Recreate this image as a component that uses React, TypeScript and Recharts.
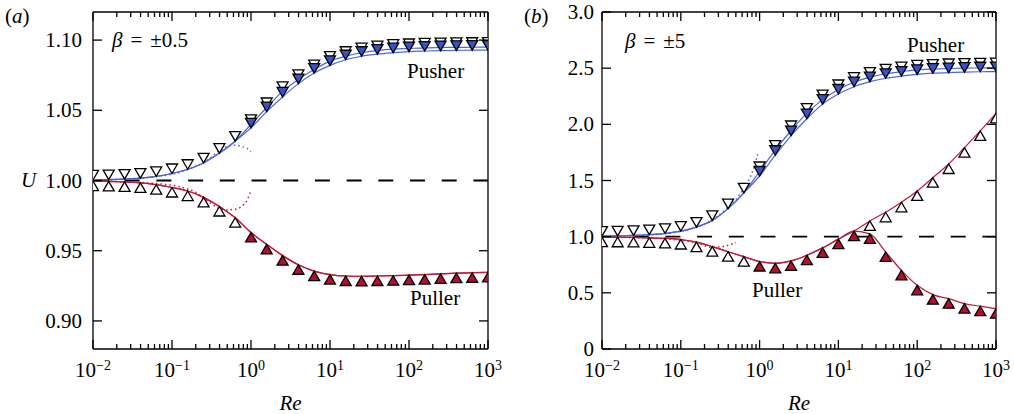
import React from 'react';
import { ComposedChart, Line, Scatter, XAxis, YAxis, ReferenceLine } from 'recharts';

// ─── Data ─────────────────────────────────────────────────────────────────────

const n = null;

// Re sample points (0.2 decade apart)
const reGrid = [
  0.01, 0.0158, 0.0251, 0.0398, 0.0631, 0.1, 0.158, 0.251, 0.398, 0.631, 1, 1.58, 2.51,
  3.98, 6.31, 10, 15.8, 25.1, 39.8, 63.1, 100, 158, 251, 398, 631, 1000,
];

const decadeTicks = [0.01, 0.1, 1, 10, 100, 1000];
const minorTicks = [
  0.02, 0.03, 0.04, 0.05, 0.06, 0.07, 0.08, 0.09,
  0.2, 0.3, 0.4, 0.5, 0.6, 0.7, 0.8, 0.9,
  2, 3, 4, 5, 6, 7, 8, 9,
  20, 30, 40, 50, 60, 70, 80, 90,
  200, 300, 400, 500, 600, 700, 800, 900,
];

// panel (a): beta = ±0.5
const pusherOpenA = [
  1.0004, 1.0006, 1.001, 1.0017, 1.003, 1.005, 1.008, 1.0125, 1.0195, 1.028, 1.04, 1.052,
  1.0635, 1.072, 1.079, 1.085, 1.0885, 1.091, 1.0925, 1.0935, 1.094, 1.0945, 1.0947, 1.0948,
  1.0949, 1.095,
];
const pusherFilledA = [
  n, n, n, n, n, n, n, n, n, n, 1.0375, 1.049, 1.0595, 1.069, 1.0765, 1.082, 1.086, 1.0885,
  1.09, 1.091, 1.0918, 1.0922, 1.0925, 1.0927, 1.0928, 1.0929,
];
const pullerOpenA = [
  0.9996, 0.9994, 0.999, 0.9983, 0.997, 0.995, 0.9925, 0.988, 0.9815, 0.9735,
  n, n, n, n, n, n, n, n, n, n, n, n, n, n, n, n,
];
const pullerFilledA = [
  n, n, n, n, n, n, n, n, n, n, 0.963, 0.9545, 0.9465, 0.94, 0.9355, 0.933, 0.932, 0.9318,
  0.932, 0.9322, 0.9326, 0.933, 0.9335, 0.934, 0.9343, 0.9346,
];
const theoryReA = [0.01, 0.025, 0.063, 0.126, 0.2, 0.282, 0.398, 0.501, 0.631, 0.759, 0.891, 1];
const pusherTheoryA = [
  1.0004, 1.001, 1.0028, 1.0058, 1.0102, 1.0145, 1.0215, 1.0243, 1.0252, 1.0242, 1.0228, 1.0205,
];
const pullerTheoryA = [
  0.9996, 0.999, 0.9978, 0.9955, 0.9915, 0.9855, 0.98, 0.979, 0.9795, 0.9815, 0.986, 0.993,
];

// panel (b): beta = ±5
const pusherOpenB = [
  1.005, 1.007, 1.011, 1.018, 1.03, 1.05, 1.085, 1.145, 1.25, 1.39, 1.58, 1.77, 1.945, 2.1,
  2.22, 2.31, 2.375, 2.42, 2.45, 2.47, 2.485, 2.492, 2.497, 2.5, 2.502, 2.504,
];
const pusherFilledB = [
  n, n, n, n, n, n, n, n, n, n, 1.54, 1.725, 1.9, 2.05, 2.18, 2.27, 2.335, 2.38, 2.41, 2.43,
  2.445, 2.455, 2.46, 2.465, 2.468, 2.47,
];
const pullerOpenB = [
  0.996, 0.995, 0.993, 0.99, 0.985, 0.975, 0.952, 0.911, 0.866, 0.822,
  n, n, n, n, n, n, n, 1.14, 1.217, 1.306, 1.407, 1.525, 1.647, 1.792, 1.941, 2.098,
];
const pullerFilledB = [
  n, n, n, n, n, n, n, n, n, n, 0.779, 0.763, 0.784, 0.835, 0.9, 0.978, 1.05, 1.025, 0.864,
  0.7, 0.567, 0.484, 0.448, 0.404, 0.381, 0.359,
];
const theoryReB = [0.01, 0.0316, 0.0794, 0.158, 0.251, 0.355, 0.501, 0.631, 0.759, 0.871, 0.955];
const pusherTheoryB = [1.005, 1.012, 1.035, 1.085, 1.15, 1.23, 1.33, 1.43, 1.53, 1.64, 1.75];
const pullerTheoryB = [0.996, 0.99, 0.975, 0.945, 0.905, 0.915, 0.948, n, n, n, n];

// ─── Styling ──────────────────────────────────────────────────────────────────

const SERIF = '"Liberation Serif", "DejaVu Serif", serif';
const BLUE_FILL = '#3a52c6';
const BLUE_LINE = '#4d66d8';
const RED_FILL = '#b40f2c';
const RED_LINE = '#c5163a';
const TRI_W = 5.5;
const TRI_H = 9.5;
const MAJOR = 9;
const MINOR = 5;

// ─── Helpers ──────────────────────────────────────────────────────────────────

type Val = number | null;

interface PanelSeries {
  pushOpen: Val[];
  pushFilled: Val[];
  pullOpen: Val[];
  pullFilled: Val[];
  theoryRe: number[];
  pushTheory: Val[];
  pullTheory: Val[];
}

const buildRows = (s: PanelSeries) => {
  const rows: Record<string, number | null>[] = reGrid.map((x, i) => ({
    x,
    pushLine1: s.pushOpen[i] ?? s.pushFilled[i],
    pushLine2: s.pushFilled[i] ?? s.pushOpen[i],
    pullLine1: s.pullOpen[i] ?? s.pullFilled[i],
    pullLine2: s.pullFilled[i] ?? s.pullOpen[i],
    pushTheory: null,
    pullTheory: null,
  }));
  s.theoryRe.forEach((x, i) => {
    rows.push({
      x: x * 1.0001,
      pushLine1: null,
      pushLine2: null,
      pullLine1: null,
      pullLine2: null,
      pushTheory: s.pushTheory[i],
      pullTheory: s.pullTheory[i],
    });
  });
  return rows.sort((a, b) => (a.x as number) - (b.x as number));
};

const points = (vals: Val[]) =>
  reGrid.map((x, i) => ({ x, y: vals[i] })).filter((p) => p.y != null);

const Tri = ({ cx, cy, fill, down }: { cx?: number; cy?: number; fill: string; down: boolean }) => {
  if (cx == null || cy == null) return <g />;
  const by = down ? cy - TRI_H : cy + TRI_H;
  return (
    <path
      d={`M${cx},${cy} L${cx - TRI_W},${by} L${cx + TRI_W},${by} Z`}
      fill={fill}
      stroke="#000"
      strokeWidth={1.3}
    />
  );
};

const isMajor = (v: number) => decadeTicks.some((d) => Math.abs(d - v) / d < 1e-6);

// bottom axis: inward tick + 10^k label on decades
const BottomTick = (props: any) => {
  const { x, y, payload } = props;
  const major = isMajor(payload.value);
  const e = Math.round(Math.log10(payload.value));
  return (
    <g>
      <line x1={x} x2={x} y1={y} y2={y - (major ? MAJOR : MINOR)} stroke="#000" strokeWidth={1.3} />
      {major && (
        <text x={x} y={y + 28} textAnchor="middle" fontFamily={SERIF} fontSize={21} fill="#000">
          10
          <tspan dy={-7} fontSize={14}>
            {e < 0 ? `\u2212${-e}` : `${e}`}
          </tspan>
        </text>
      )}
    </g>
  );
};

const TopTick = (props: any) => {
  const { x, y, payload } = props;
  const major = isMajor(payload.value);
  return <line x1={x} x2={x} y1={y} y2={y + (major ? MAJOR : MINOR)} stroke="#000" strokeWidth={1.3} />;
};

const makeLeftTick = (fmt: (v: number) => string, gap: number) => (props: any) => {
  const { x, y, payload } = props;
  return (
    <g>
      <line x1={x} x2={x + MAJOR} y1={y} y2={y} stroke="#000" strokeWidth={1.3} />
      <text x={x - gap} y={y} dy="0.34em" textAnchor="end" fontFamily={SERIF} fontSize={21} fill="#000">
        {fmt(payload.value)}
      </text>
    </g>
  );
};

const RightTick = (props: any) => {
  const { x, y } = props;
  return <line x1={x} x2={x - MAJOR} y1={y} y2={y} stroke="#000" strokeWidth={1.3} />;
};

// ─── Panel ────────────────────────────────────────────────────────────────────

interface PanelProps {
  series: PanelSeries;
  yDomain: [number, number];
  yTicks: number[];
  fmt: (v: number) => string;
  left: number;
  right: number;
  labelGap: number;
}

const allXTicks = [...decadeTicks, ...minorTicks].sort((a, b) => a - b);

const Panel: React.FC<PanelProps> = ({ series, yDomain, yTicks, fmt, left, right, labelGap }) => {
  const rows = buildRows(series);
  const xCommon = {
    dataKey: 'x',
    type: 'number' as const,
    scale: 'log' as const,
    domain: [0.01, 1000],
    allowDataOverflow: true,
    interval: 0 as const,
    ticks: allXTicks,
    tickLine: false,
    tickSize: 0,
    tickMargin: 0,
  };
  const yCommon = {
    type: 'number' as const,
    domain: yDomain,
    allowDataOverflow: true,
    ticks: yTicks,
    interval: 0 as const,
    tickLine: false,
    tickSize: 0,
    tickMargin: 0,
  };
  const frame = { stroke: '#000', strokeWidth: 1.3 };
  const LeftTick = makeLeftTick(fmt, labelGap);

  return (
    <ComposedChart
      width={507}
      height={414}
      data={rows}
      margin={{ top: 11, right: right - 1, bottom: 25, left: 0 }}
    >
      <XAxis {...xCommon} xAxisId="main" tick={<BottomTick />} axisLine={frame} height={40} />
      <XAxis {...xCommon} xAxisId="top" orientation="top" tick={<TopTick />} axisLine={frame} height={1} />

      <YAxis {...yCommon} yAxisId="main" width={left} tick={<LeftTick />} axisLine={frame} />
      <YAxis {...yCommon} yAxisId="right" orientation="right" width={1} tick={<RightTick />} axisLine={frame} />

      <ReferenceLine
        xAxisId="main"
        yAxisId="main"
        y={1}
        stroke="#000"
        strokeWidth={1.8}
        strokeDasharray="15 16.7"
      />

      <Line xAxisId="main" yAxisId="main" dataKey="pushTheory" type="monotone" stroke={BLUE_LINE} strokeWidth={1.5} strokeDasharray="1.5 3" dot={false} connectNulls isAnimationActive={false} />
      <Line xAxisId="main" yAxisId="main" dataKey="pullTheory" type="monotone" stroke={RED_LINE} strokeWidth={1.5} strokeDasharray="1.5 3" dot={false} connectNulls isAnimationActive={false} />
      <Line xAxisId="main" yAxisId="main" dataKey="pushLine1" type="monotone" stroke={BLUE_LINE} strokeWidth={1.2} dot={false} connectNulls isAnimationActive={false} />
      <Line xAxisId="main" yAxisId="main" dataKey="pushLine2" type="monotone" stroke={BLUE_LINE} strokeWidth={1.2} dot={false} connectNulls isAnimationActive={false} />
      <Line xAxisId="main" yAxisId="main" dataKey="pullLine1" type="monotone" stroke={RED_LINE} strokeWidth={1.2} dot={false} connectNulls isAnimationActive={false} />
      <Line xAxisId="main" yAxisId="main" dataKey="pullLine2" type="monotone" stroke={RED_LINE} strokeWidth={1.2} dot={false} connectNulls isAnimationActive={false} />

      <Scatter xAxisId="main" yAxisId="main" data={points(series.pushOpen)} dataKey="y" shape={(p: any) => <Tri cx={p.cx} cy={p.cy} fill="#fff" down />} isAnimationActive={false} />
      <Scatter xAxisId="main" yAxisId="main" data={points(series.pushFilled)} dataKey="y" shape={(p: any) => <Tri cx={p.cx} cy={p.cy} fill={BLUE_FILL} down />} isAnimationActive={false} />
      <Scatter xAxisId="main" yAxisId="main" data={points(series.pullOpen)} dataKey="y" shape={(p: any) => <Tri cx={p.cx} cy={p.cy} fill="#fff" down={false} />} isAnimationActive={false} />
      <Scatter xAxisId="main" yAxisId="main" data={points(series.pullFilled)} dataKey="y" shape={(p: any) => <Tri cx={p.cx} cy={p.cy} fill={RED_FILL} down={false} />} isAnimationActive={false} />
    </ComposedChart>
  );
};

// ─── App ──────────────────────────────────────────────────────────────────────

const seriesA: PanelSeries = {
  pushOpen: pusherOpenA,
  pushFilled: pusherFilledA,
  pullOpen: pullerOpenA,
  pullFilled: pullerFilledA,
  theoryRe: theoryReA,
  pushTheory: pusherTheoryA,
  pullTheory: pullerTheoryA,
};

const seriesB: PanelSeries = {
  pushOpen: pusherOpenB,
  pushFilled: pusherFilledB,
  pullOpen: pullerOpenB,
  pullFilled: pullerFilledB,
  theoryRe: theoryReB,
  pushTheory: pusherTheoryB,
  pullTheory: pullerTheoryB,
};

const txt = { fontFamily: SERIF, fontSize: 21, fill: '#000' };

export default function App() {
  return (
    <div style={{ position: 'absolute', left: 0, top: 0, width: 1014, height: 414, background: '#fff' }}>
      <div style={{ position: 'absolute', left: 0, top: 0 }}>
        <Panel
          series={seriesA}
          yDomain={[0.88, 1.12]}
          yTicks={[0.9, 0.95, 1.0, 1.05, 1.1]}
          fmt={(v) => v.toFixed(2)}
          left={93}
          right={19}
          labelGap={11}
        />
      </div>
      <div style={{ position: 'absolute', left: 507, top: 0 }}>
        <Panel
          series={seriesB}
          yDomain={[0, 3]}
          yTicks={[0, 0.5, 1.0, 1.5, 2.0, 2.5, 3.0]}
          fmt={(v) => (v === 0 ? '0' : v.toFixed(1))}
          left={95}
          right={18}
          labelGap={8}
        />
      </div>
      <svg
        width={1014}
        height={414}
        style={{ position: 'absolute', left: 0, top: 0, pointerEvents: 'none' }}
      >
        <text x={5} y={23} {...txt}>(<tspan fontStyle="italic">a</tspan>)</text>
        <text x={524} y={23} {...txt}>(<tspan fontStyle="italic">b</tspan>)</text>
        <text x={21} y={187} {...txt} fontStyle="italic">U</text>
        <text x={290.5} y={410} {...txt} fontStyle="italic" textAnchor="middle">Re</text>
        <text x={799} y={410} {...txt} fontStyle="italic" textAnchor="middle">Re</text>
        <text x={112} y={47} {...txt}>
          <tspan fontStyle="italic">β</tspan>
          <tspan dx={8}>=</tspan>
          <tspan dx={8}>±0.5</tspan>
        </text>
        <text x={625} y={48} {...txt}>
          <tspan fontStyle="italic">β</tspan>
          <tspan dx={8}>=</tspan>
          <tspan dx={8}>±5</tspan>
        </text>
        <text x={407} y={78} {...txt}>Pusher</text>
        <text x={410} y={305} {...txt}>Puller</text>
        <text x={907} y={51.5} {...txt}>Pusher</text>
        <text x={752} y={297} {...txt}>Puller</text>
      </svg>
    </div>
  );
}
